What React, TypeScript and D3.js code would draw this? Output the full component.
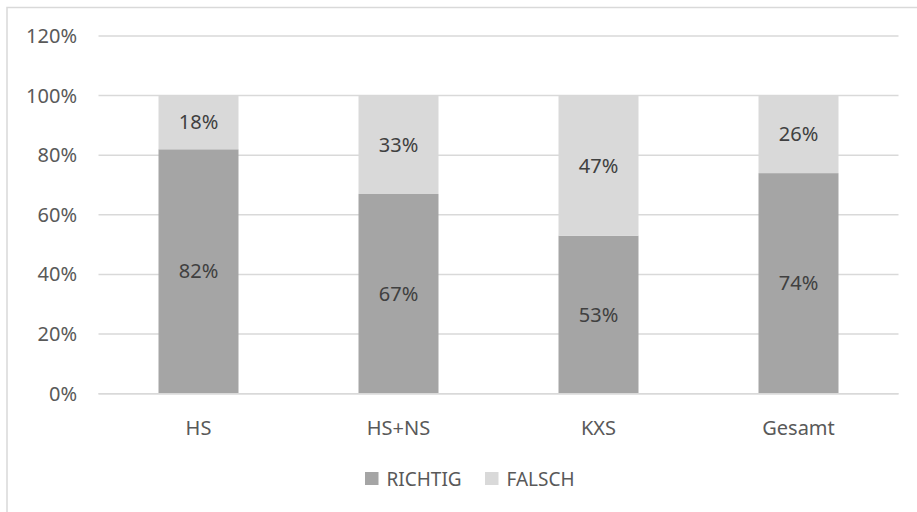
import React from "react";
import * as d3 from "d3";

const categories = ["HS", "HS+NS", "KXS", "Gesamt"];
const richtig = [82, 67, 53, 74];
const falsch = [18, 33, 47, 26];
const yTicks = [0, 20, 40, 60, 80, 100, 120];
const seriesNames = ["RICHTIG", "FALSCH"];
const seriesColors = ["#a5a5a5", "#d9d9d9"];

const W = 917;
const H = 512;
const FONT = "'Noto Sans', 'Open Sans', sans-serif";

export default function App() {
  const x = d3.scaleBand<string>().domain(categories).range([98.5, 898.5]).paddingInner(0.6).paddingOuter(0.3);
  const y = d3.scaleLinear().domain([0, 120]).range([393.7, 36]);
  const stack = categories.map((c, i) => ({ c, vals: [richtig[i], falsch[i]] }));

  return (
    <svg width={W} height={H} style={{ position: "absolute", left: 0, top: 0, background: "#fff" }} fontFamily={FONT}>
      <rect x={0} y={0} width={W} height={H} fill="#fff" />
      <rect x={7} y={7.5} width={W + 20} height={H + 20} fill="none" stroke="#d9d9d9" strokeWidth={1.5} />
      {yTicks.map((t) => (
        <g key={t}>
          <line x1={98.5} x2={898.5} y1={y(t)} y2={y(t)} stroke="#d9d9d9" strokeWidth={1.5} />
          <text x={77} y={y(t)} dy="0.35em" textAnchor="end" fontSize={20} fill="#595959">
            {t}%
          </text>
        </g>
      ))}
      {stack.map((s) => {
        let acc = 0;
        return (
          <g key={s.c}>
            {s.vals.map((v, j) => {
              const y0 = acc;
              acc += v;
              const top = y(acc);
              const bot = y(y0);
              return (
                <g key={j}>
                  <rect x={x(s.c)} y={top} width={x.bandwidth()} height={bot - top} fill={seriesColors[j]} />
                  <text
                    x={(x(s.c) as number) + x.bandwidth() / 2}
                    y={(top + bot) / 2}
                    dy="0.35em"
                    textAnchor="middle"
                    fontSize={20}
                    fill="#404040"
                  >
                    {v}%
                  </text>
                </g>
              );
            })}
          </g>
        );
      })}
      <line x1={98.5} x2={898.5} y1={y(0)} y2={y(0)} stroke="#d9d9d9" strokeWidth={1.5} />
      {categories.map((c) => (
        <text key={c} x={(x(c) as number) + x.bandwidth() / 2} y={428} dy="0.35em" textAnchor="middle" fontSize={20} fill="#595959">
          {c}
        </text>
      ))}
      {seriesNames.map((n, i) => {
        const lx = i === 0 ? 365 : 485;
        return (
          <g key={n}>
            <rect x={lx} y={472} width={13.5} height={13} fill={seriesColors[i]} />
            <text x={lx + 21.5} y={479} dy="0.35em" fontSize={19} fill="#595959">
              {n}
            </text>
          </g>
        );
      })}
    </svg>
  );
}
